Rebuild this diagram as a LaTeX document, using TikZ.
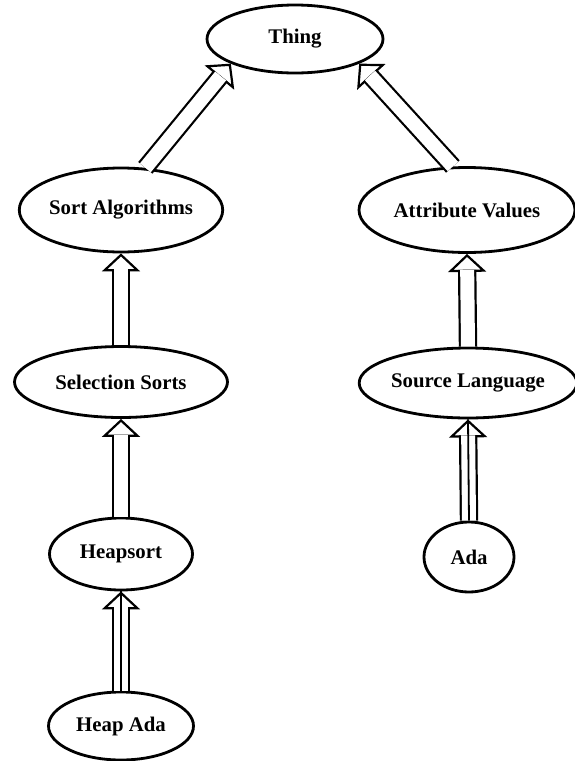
\documentclass[tikz,border=0pt]{standalone}
\usepackage{fontspec}
\setmainfont{Liberation Serif}
\usetikzlibrary{shapes.geometric,arrows.meta,calc}
\begin{document}
\begin{tikzpicture}[x=1pt, y=-1pt,
	every node/.style={ellipse, draw, line width=2.8pt, inner sep=0pt, font=\fontsize{20.8}{24}\selectfont\bfseries},
	isashaft/.style={line width=2.2pt, double=white, double distance=14pt, shorten >=16pt},
	isahead/.style={line width=2.2pt, -{Triangle[open, length=18pt, width=38pt]}},
	inst/.style={line width=1.8pt}]
	\useasboundingbox (0,0) rectangle (574,761);
	\node (thing) at (295,39) [minimum width=176pt, minimum height=68pt] {Thing};
	\node (sortalg) at (121,210) [minimum width=200pt, minimum height=84pt] {Sort Algorithms};
	\node (attrval) at (467,210) [minimum width=216pt, minimum height=85pt] {Attribute Values};
	\node (selsort) at (121,382) [minimum width=213pt, minimum height=71pt] {Selection Sorts};
	\node (srclang) at (468,383) [minimum width=212pt, minimum height=70pt] {Source Language};
	\node (heapsort) at (121,554) [minimum width=143pt, minimum height=72pt] {Heapsort};
	\node (ada) at (469,557) [minimum width=90pt, minimum height=70pt] {Ada};
	\node (heapada) at (121,726) [minimum width=145pt, minimum height=68pt] {Heap Ada};

	\draw[isahead] ($(thing.201)!18pt!(sortalg.60)$) -- (thing.201);
	\draw[isashaft] (sortalg.60) -- (thing.201);
	\draw[isahead] ($(thing.339)!18pt!(attrval.108)$) -- (thing.339);
	\draw[isashaft] (attrval.108) -- (thing.339);
	\draw[isahead] ($(sortalg.south)!18pt!(selsort.north)$) -- (sortalg.south);
	\draw[isashaft] (selsort.north) -- (sortalg.south);
	\draw[isahead] ($(attrval.south)!18pt!(srclang.north)$) -- (attrval.south);
	\draw[isashaft] (srclang.north) -- (attrval.south);
	\draw[isahead] ($(selsort.south)!18pt!(heapsort.north)$) -- (selsort.south);
	\draw[isashaft] (heapsort.north) -- (selsort.south);
	% instance links carry a centre line
	\draw[isahead] ($(srclang.south)!18pt!(ada.north)$) -- (srclang.south);
	\draw[isashaft] (ada.north) -- (srclang.south);
	\draw[inst] (ada.north) -- (srclang.south);
	\draw[isahead] ($(heapsort.south)!18pt!(heapada.north)$) -- (heapsort.south);
	\draw[isashaft] (heapada.north) -- (heapsort.south);
	\draw[inst] (heapada.north) -- (heapsort.south);
\end{tikzpicture}
\end{document}
